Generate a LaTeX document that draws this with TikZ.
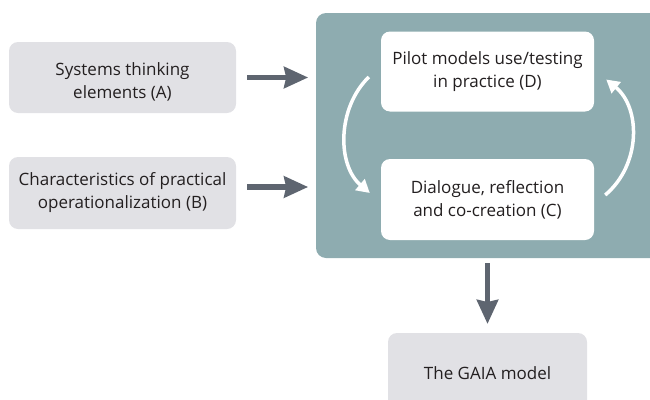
\documentclass[tikz,border=0pt]{standalone}
\usepackage{fontspec}
\setmainfont{Open Sans}
\usetikzlibrary{arrows.meta}
\definecolor{boxgray}{HTML}{E1E1E5}
\definecolor{teal}{HTML}{8EACB0}
\definecolor{arrgray}{HTML}{5E6570}
\definecolor{txt}{HTML}{231F20}
\tikzset{
  boxtext/.style={align=center, font=\fontsize{17}{23}\selectfont, text=txt},
  graybox/.style={boxtext, fill=boxgray, rounded corners=9pt, minimum width=227pt, minimum height=71pt},
  whitebox/.style={boxtext, fill=white, rounded corners=9pt, minimum width=213pt, minimum height=80pt},
  bigarrow/.style={draw=arrgray, line width=5.5pt, -{Stealth[inset=2pt,length=24pt,width=21pt]}},
  cycarrow/.style={draw=white, line width=3.5pt, -{Triangle[length=13pt,width=14pt]}}
}
\begin{document}
\begin{tikzpicture}[x=1pt,y=-1pt]
\useasboundingbox (0,0) rectangle (650,399);
\fill[teal, rounded corners=10pt] (316,13) rectangle (665,258);
\node[graybox] (A) at (122.5,77.5) {};
\node[boxtext] (Atext) at ([yshift=-4pt]A.center) {Systems thinking\\elements (A)};
\node[graybox, minimum height=72pt] (B) at (122.5,193) {Characteristics of practical\\operationalization (B)};
\node[whitebox] (D) at (487.5,71.5) {Pilot models use/testing\\in practice (D)};
\node[whitebox, minimum height=81pt] (C) at (487.5,199.5) {Dialogue, reflection\\and co-creation (C)};
\node[graybox, minimum width=199pt, minimum height=80pt] (G) at (487.5,373) {The GAIA model};
\draw[bigarrow] ([xshift=11pt]A.east) -- ++(61,0);
\draw[bigarrow] ([xshift=11pt,yshift=6pt]B.east) -- ++(61,0);
\draw[bigarrow] (487.5,263) -- (G.north |- 0,324);
\draw[cycarrow] ([xshift=-12pt,yshift=-5.5pt]D.west) .. controls (337,108) and (337,165) .. ([xshift=-11pt,yshift=6.5pt]C.west);
\draw[cycarrow] ([xshift=11pt,yshift=4.5pt]C.east) .. controls (641,165) and (641,108) .. ([xshift=12pt,yshift=-8pt]D.east);
\end{tikzpicture}
\end{document}
